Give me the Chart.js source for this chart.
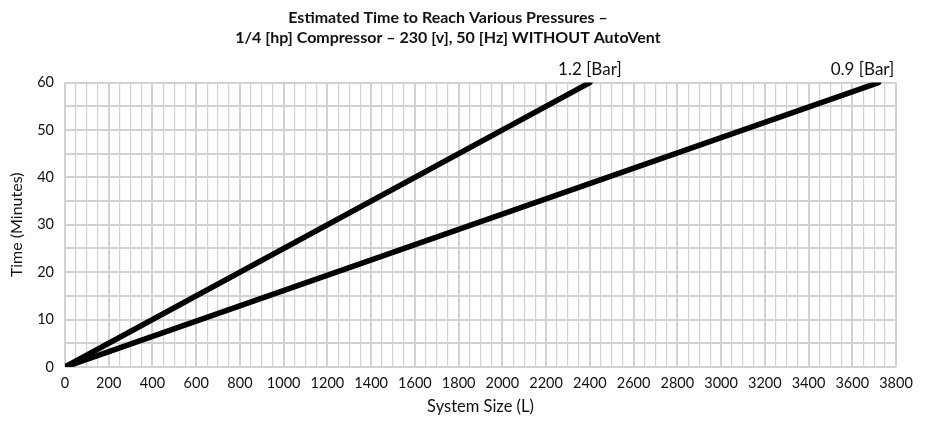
<!DOCTYPE html>
<html>
<head>
<meta charset="utf-8">
<script src="https://cdn.jsdelivr.net/npm/chart.js@4"></script>
<style>
  html, body { margin: 0; padding: 0; background: #fff; }
  #wrap { width: 935px; height: 421px; }
</style>
</head>
<body>
<div id="wrap"><canvas id="myChart" width="935" height="421"></canvas></div>
<script>
const titleLines = [
  "Estimated Time to Reach Various Pressures \u2013",
  "1/4 [hp] Compressor \u2013 230 [v], 50 [Hz] WITHOUT AutoVent",
];

// system size (L) -> time (minutes)
const bar12Size = [0, 2400];
const bar12Time = [0, 60];
const bar09Size = [0, 3720];
const bar09Time = [0, 60];

const seriesLabels = ["1.2 [Bar]", "0.9 [Bar]"];

const xMax = 3800;
const yMax = 60;

const FONT = "Lato, 'Open Sans', sans-serif";
const gridColor = "#d2d2d2";

function toPoints(xs, ys) {
  return xs.map((x, i) => ({ x: x, y: ys[i] }));
}

// writes the series name just above where each line ends
const endLabels = {
  id: "endLabels",
  afterDatasetsDraw(chart) {
    const c = chart.ctx;
    const xs = chart.scales.x;
    const ys = chart.scales.y;
    const offsets = [0, -16];
    c.save();
    c.font = "17px " + FONT;
    c.fillStyle = "#111";
    c.textBaseline = "middle";
    c.textAlign = "center";
    chart.data.datasets.forEach((ds, i) => {
      const last = ds.data[ds.data.length - 1];
      const px = xs.getPixelForValue(last.x);
      const py = ys.getPixelForValue(last.y);
      c.fillText(ds.label, px + offsets[i], py - 13);
    });
    c.restore();
  },
};

const ctx = document.getElementById("myChart").getContext("2d");

const myChart = new Chart(ctx, {
  type: "scatter",
  data: {
    datasets: [
      {
        label: seriesLabels[0],
        data: toPoints(bar12Size, bar12Time),
        showLine: true,
        borderColor: "#000",
        borderWidth: 5.5,
        borderCapStyle: "round",
        pointRadius: 0,
      },
      {
        label: seriesLabels[1],
        data: toPoints(bar09Size, bar09Time),
        showLine: true,
        borderColor: "#000",
        borderWidth: 5.5,
        borderCapStyle: "round",
        pointRadius: 0,
      },
    ],
  },
  options: {
    responsive: false,
    animation: false,
    layout: { padding: { left: 0, right: 39, top: 0, bottom: 0 } },
    plugins: {
      legend: { display: false },
      tooltip: { enabled: false },
      title: {
        display: true,
        text: titleLines,
        color: "#111",
        font: { family: FONT, size: 16, weight: "bold", lineHeight: 1.3 },
        padding: { top: 7, bottom: 34 },
      },
    },
    scales: {
      x: {
        type: "linear",
        min: 0,
        max: xMax,
        afterFit(scale) { scale.height = 54; },
        border: { display: false },
        grid: {
          color: gridColor,
          drawTicks: false,
          lineWidth: (c) => (c.tick && c.tick.value % 200 === 0 ? 2 : 1.2),
        },
        ticks: {
          stepSize: 50,
          autoSkip: false,
          maxRotation: 0,
          padding: 8,
          color: "#111",
          font: { family: FONT, size: 14.5 },
          callback: (v) => (v % 200 === 0 ? v : ""),
        },
        title: {
          display: true,
          text: "System Size (L)",
          color: "#111",
          font: { family: FONT, size: 16.5 },
          padding: { top: 0, bottom: 4 },
        },
      },
      y: {
        min: 0,
        max: yMax,
        afterFit(scale) { scale.width = 65; },
        border: { display: false },
        grid: {
          color: gridColor,
          drawTicks: false,
          lineWidth: 2,
        },
        ticks: {
          stepSize: 5,
          autoSkip: false,
          padding: 11,
          color: "#111",
          font: { family: FONT, size: 14.5 },
          callback: (v) => (v % 10 === 0 ? v : ""),
        },
        title: {
          display: true,
          text: "Time (Minutes)",
          color: "#111",
          font: { family: FONT, size: 16 },
          padding: { top: 7, bottom: 0 },
        },
      },
    },
  },
  plugins: [endLabels],
});
</script>
</body>
</html>
